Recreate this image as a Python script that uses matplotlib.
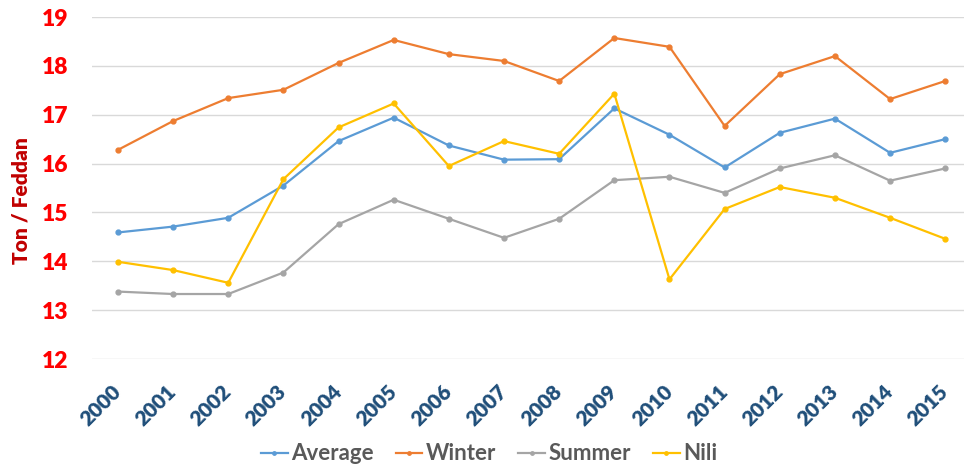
import matplotlib
matplotlib.use("Agg")
import matplotlib.pyplot as plt

years = ["2000", "2001", "2002", "2003", "2004", "2005", "2006", "2007",
         "2008", "2009", "2010", "2011", "2012", "2013", "2014", "2015"]
average = [14.59, 14.71, 14.89, 15.55, 16.46, 16.94, 16.37, 16.08,
           16.09, 17.13, 16.59, 15.92, 16.63, 16.92, 16.22, 16.50]
winter = [16.28, 16.87, 17.34, 17.51, 18.06, 18.53, 18.24, 18.10,
          17.69, 18.57, 18.39, 16.77, 17.83, 18.20, 17.32, 17.69]
summer = [13.38, 13.33, 13.33, 13.77, 14.76, 15.26, 14.87, 14.48,
          14.87, 15.66, 15.73, 15.40, 15.90, 16.17, 15.65, 15.90]
nili = [13.99, 13.82, 13.56, 15.68, 16.74, 17.23, 15.95, 16.46,
        16.20, 17.43, 13.63, 15.07, 15.52, 15.30, 14.89, 14.46]
y_ticks = [12, 13, 14, 15, 16, 17, 18, 19]

series = [("Average", average, "#5B9BD5"),
          ("Winter", winter, "#ED7D31"),
          ("Summer", summer, "#A5A5A5"),
          ("Nili", nili, "#FFC000")]

plt.rcParams['font.family'] = ['Lato', 'DejaVu Sans']

fig = plt.figure(figsize=(9.64, 4.67), dpi=100)
ax = fig.add_axes([92/964, 1-359/467, 1-92/964, (359-17)/467])

x = list(range(len(years)))
for name, vals, col in series:
    ax.plot(x, vals, color=col, lw=1.6, marker='o', markersize=3.5, label=name)

ax.set_ylim(12, 19)
ax.set_xlim(-0.47, 15.34)
ax.set_yticks(y_ticks)
ax.set_yticklabels([str(v) for v in y_ticks], color='#FF0000', fontweight='heavy', fontsize=16.5)
ax.set_xticks(x)
ax.set_xticklabels(years, rotation=45, ha='right', va='center', rotation_mode='anchor',
                   color='#1F4E79', fontweight='heavy', fontsize=15)
ax.tick_params(axis='y', length=0, pad=17)
ax.tick_params(axis='x', length=0, pad=21)
ax.grid(axis='y', color='#D9D9D9', lw=1)
ax.set_axisbelow(True)
for s in ax.spines.values():
    s.set_visible(False)

fig.text(21/964, 1-201/467, "Ton / Feddan", rotation=90, ha='center', va='center',
         color='#C00000', fontweight='heavy', fontsize=15)

leg = fig.legend(loc='center', bbox_to_anchor=(489/964, 1-454/467), ncol=4, frameon=False,
                 fontsize=16, handlelength=1.2, handletextpad=0.15, columnspacing=1.0,
                 markerscale=0.7)
for t in leg.get_texts():
    t.set_color('#595959')
    t.set_fontweight('bold')

fig.savefig("out.png", dpi=100)
